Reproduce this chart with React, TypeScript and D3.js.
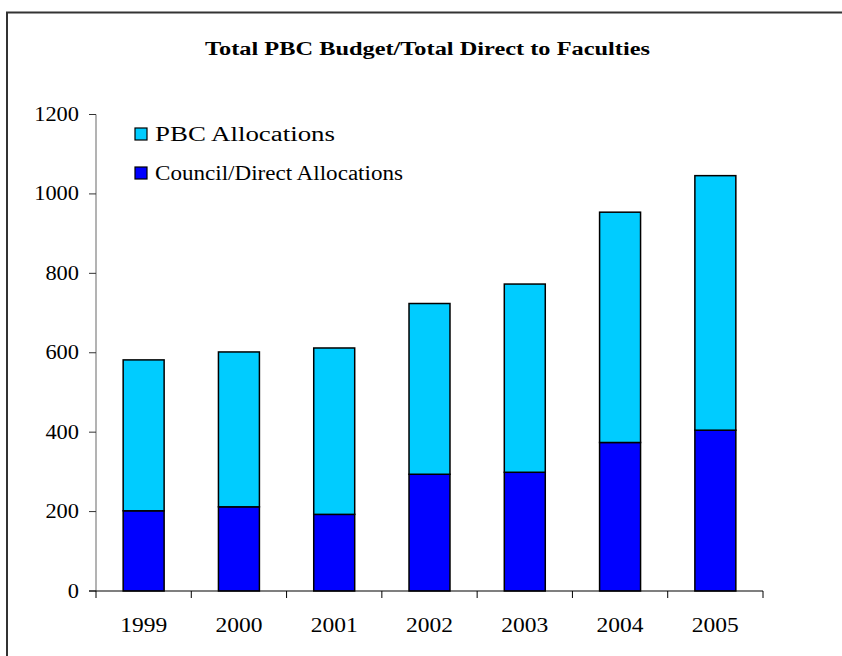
import React from "react";
import * as d3 from "d3";

const years = ["1999", "2000", "2001", "2002", "2003", "2004", "2005"];
const councilDirect = [202, 212, 193, 294, 299, 374, 405];
const pbcAllocations = [380, 390, 419, 430, 474, 580, 641];
const yTicks = [0, 200, 400, 600, 800, 1000, 1200];
const seriesNames = ["PBC Allocations", "Council/Direct Allocations"];
const seriesColors = ["#00CCFF", "#0000FF"];
const title = "Total PBC Budget/Total Direct to Faculties";

export default function App() {
  const W = 842, H = 656;
  const left = 96, right = 763, top = 114.5, bottom = 591;
  const x = d3.scaleBand().domain(years).range([left, right]).paddingInner(0.57).paddingOuter(0.285);
  const xc = d3.scaleBand().domain(years).range([left, right]);
  const y = d3.scaleLinear().domain([0, 1200]).range([bottom, top]);
  const rows = years.map((yr, i) => ({ year: yr, council: councilDirect[i], pbc: pbcAllocations[i] }));
  const stack = d3.stack<any>().keys(["council", "pbc"])(rows);
  const font = "'Liberation Serif', 'Times New Roman', serif";
  const legendLen = [180, 248];
  return (
    <svg width={W} height={H} style={{ position: "absolute", left: 0, top: 0, background: "#fff" }} fontFamily={font}>
      <rect x={7} y={12.5} width={900} height={700} fill="#fff" stroke="#333" strokeWidth={2} />
      <text x={205} y={55} fontWeight="bold" fontSize={18} textLength={445} lengthAdjust="spacingAndGlyphs">{title}</text>
      {stack.map((layer, li) =>
        layer.map((d, i) => (
          <rect
            key={li + "-" + i}
            x={x(years[i])}
            y={y(d[1])}
            width={x.bandwidth()}
            height={y(d[0]) - y(d[1])}
            fill={li === 0 ? seriesColors[1] : seriesColors[0]}
            stroke="#000"
            strokeWidth={1.5}
          />
        ))
      )}
      <line x1={left} x2={left} y1={top} y2={bottom} stroke="#808080" strokeWidth={1.2} />
      {yTicks.map((t) => (
        <g key={t}>
          <line x1={left - 7} x2={left} y1={y(t)} y2={y(t)} stroke="#333" strokeWidth={1} />
          <text x={79} y={y(t) + 6.5} textAnchor="end" fontSize={20} textLength={String(t).length * 11.2} lengthAdjust="spacingAndGlyphs">{t}</text>
        </g>
      ))}
      <line x1={left - 7} x2={right} y1={bottom} y2={bottom} stroke="#000" strokeWidth={1.2} />
      {[...years.map((yr) => xc(yr)!), right].map((tx, i) => (
        <line key={i} x1={tx} x2={tx} y1={bottom} y2={bottom + 7} stroke="#000" strokeWidth={1} />
      ))}
      {years.map((yr) => (
        <text key={yr} x={xc(yr)! + xc.bandwidth() / 2} y={632} textAnchor="middle" fontSize={20} textLength={47} lengthAdjust="spacingAndGlyphs">{yr}</text>
      ))}
      {seriesNames.map((n, i) => (
        <g key={n}>
          <rect x={135} y={128 + i * 39} width={12} height={12} fill={seriesColors[i]} stroke="#000" strokeWidth={1.2} />
          <text x={155} y={140.5 + i * 39} fontSize={20} textLength={legendLen[i]} lengthAdjust="spacingAndGlyphs">{n}</text>
        </g>
      ))}
    </svg>
  );
}
